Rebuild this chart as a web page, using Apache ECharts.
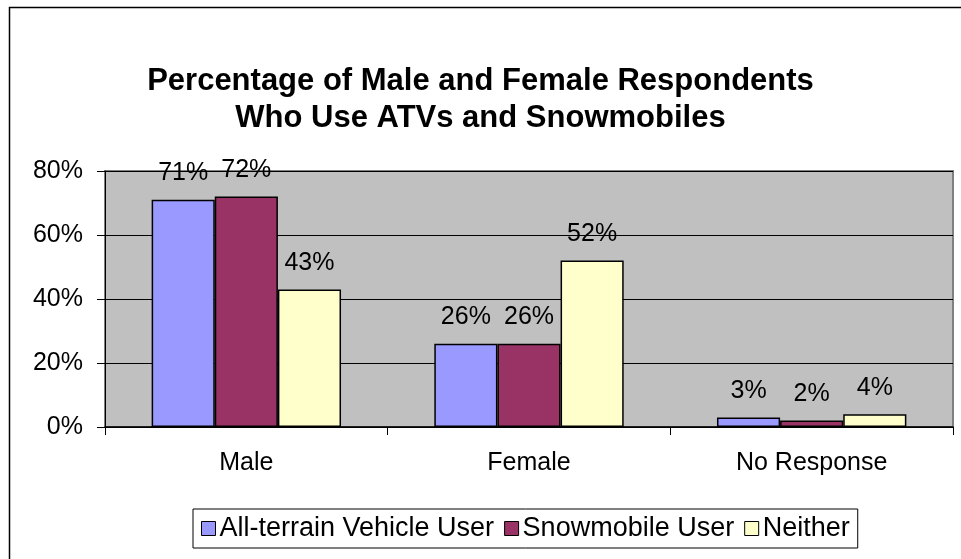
<!DOCTYPE html>
<html>
<head>
<meta charset="utf-8">
<script src="https://cdn.jsdelivr.net/npm/echarts@6/dist/echarts.min.js"></script>
<style>
html,body{margin:0;padding:0;background:#fff;}
#chart{width:961px;height:559px;}
</style>
</head>
<body>
<div id="chart"></div>
<script>
var titleLines = ['Percentage of Male and Female Respondents', 'Who Use ATVs and Snowmobiles'];
var categories = ['Male', 'Female', 'No Response'];
var seriesNames = ['All-terrain Vehicle User', 'Snowmobile User', 'Neither'];
var atvValues = [71, 26, 3];
var snowValues = [72, 26, 2];
var neitherValues = [43, 52, 4];
var yTicks = [0, 20, 40, 60, 80];

var colors = ['#9999FF', '#993366', '#FFFFCC'];
var dataSets = [atvValues, snowValues, neitherValues];
var FONT = '"Liberation Sans", Arial, sans-serif';
var FS = 25;

var chart = echarts.init(document.getElementById('chart'));
var series = dataSets.map(function (d, i) {
  return {
    name: seriesNames[i],
    type: 'bar',
    data: d,
    barCategoryGap: '33%',
    barGap: '0%',
    itemStyle: { color: colors[i], borderColor: '#000', borderWidth: 1.5 },
    label: {
      show: true, position: 'top', distance: 14,
      formatter: '{c}%', color: '#000', fontSize: FS, fontFamily: FONT
    }
  };
});

chart.setOption({
  animation: false,
  backgroundColor: '#fff',
  title: {
    text: titleLines.join('\n'),
    left: 'center', top: 58,
    textStyle: {
      fontFamily: FONT,
      fontWeight: 'bold', fontSize: 31, lineHeight: 37, color: '#000'
    }
  },
  graphic: [{
    type: 'rect', left: 7, top: 5, z: -1,
    shape: { width: 1000, height: 600 },
    style: { fill: 'none', stroke: '#000', lineWidth: 1.5 }
  }],
  legend: {
    bottom: 11, left: 193,
    itemWidth: 14, itemHeight: 14, itemGap: 10,
    padding: [6, 8, 6, 8],
    borderColor: '#000', borderWidth: 1,
    icon: 'rect',
    textStyle: { fontSize: 27, fontFamily: FONT, color: '#000', padding: [0, 0, 0, -1] },
    itemStyle: { borderColor: '#000', borderWidth: 1 },
    data: seriesNames
  },
  grid: {
    left: 105, right: 8, top: 171, bottom: 132,
    show: true, backgroundColor: '#C0C0C0', borderColor: '#808080', borderWidth: 2
  },
  xAxis: {
    type: 'category', data: categories,
    axisLine: { lineStyle: { color: '#000', width: 1.5 } },
    axisTick: { show: true, length: 8, lineStyle: { color: '#000' } },
    axisLabel: { fontSize: FS, fontFamily: FONT, color: '#000', margin: 24 }
  },
  yAxis: {
    type: 'value', min: yTicks[0], max: yTicks[yTicks.length - 1], interval: 20,
    axisLine: { show: true, lineStyle: { color: '#000', width: 1 } },
    axisTick: { show: true, length: 8, lineStyle: { color: '#000' } },
    axisLabel: { fontSize: FS, fontFamily: FONT, color: '#000', margin: 22, formatter: '{value}%' },
    splitLine: { lineStyle: { color: '#000', width: 1 } }
  },
  series: series
});
</script>
</body>
</html>
